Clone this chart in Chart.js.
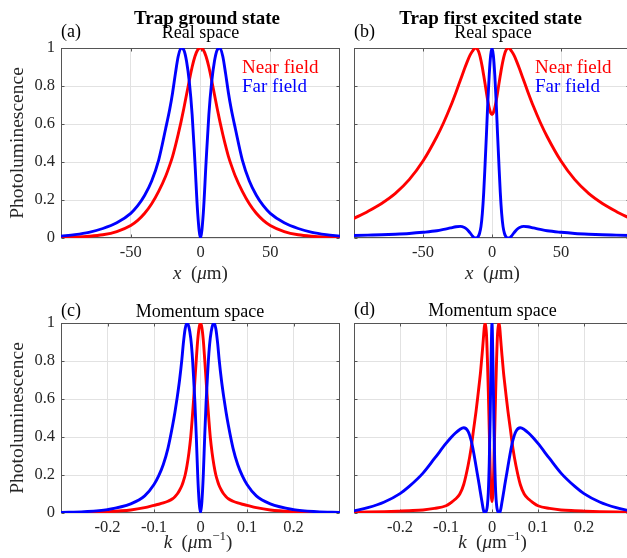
<!DOCTYPE html>
<html>
<head>
<meta charset="utf-8">
<script src="https://cdn.jsdelivr.net/npm/chart.js@4/dist/chart.umd.min.js"></script>
<style>
html, body { margin: 0; padding: 0; overflow: hidden; background: #fff; width: 627px; height: 558px; }
canvas { position: absolute; }
</style>
</head>
<body>
<canvas id="pa" width="348" height="290" style="left:0;top:0"></canvas>
<canvas id="pb" width="348" height="290" style="left:293px;top:0"></canvas>
<canvas id="pc" width="348" height="290" style="left:0;top:275px"></canvas>
<canvas id="pd" width="348" height="290" style="left:293px;top:275px"></canvas>
<script>
// ---- data ----
const yTicks = [0, 0.2, 0.4, 0.6, 0.8, 1];
const realTicks = [-50, 0, 50];
const momentumTicks = [-0.2, -0.1, 0, 0.1, 0.2];

// trap ground state, real space (x in um)
const groundRealX = [-100, -90, -80, -70, -60, -50, -45, -40, -35, -30, -25, -22, -20, -18, -16, -14, -12, -10, -8, -6, -4, -2,
  0, 2, 4, 6, 8, 10, 12, 14, 16, 18, 20, 22, 25, 30, 35, 40, 45, 50, 60, 70, 80, 90, 100];
const groundRealNear = [0.003, 0.005, 0.009, 0.017, 0.034, 0.066, 0.093, 0.13, 0.18, 0.245, 0.325, 0.385, 0.43, 0.485, 0.545, 0.61, 0.68, 0.755, 0.83, 0.90, 0.955, 0.99,
  1.0, 0.99, 0.955, 0.90, 0.83, 0.755, 0.68, 0.61, 0.545, 0.485, 0.43, 0.385, 0.325, 0.245, 0.18, 0.13, 0.093, 0.066, 0.034, 0.017, 0.009, 0.005, 0.003];
const groundRealFar = [0.01, 0.018, 0.03, 0.05, 0.08, 0.13, 0.17, 0.225, 0.30, 0.41, 0.575, 0.68, 0.765, 0.865, 0.955, 1.0, 0.99, 0.93, 0.82, 0.65, 0.40, 0.13,
  0, 0.13, 0.40, 0.65, 0.82, 0.93, 0.99, 1.0, 0.955, 0.865, 0.765, 0.68, 0.575, 0.41, 0.30, 0.225, 0.17, 0.13, 0.08, 0.05, 0.03, 0.018, 0.01];

// trap first excited state, real space
const excitedRealX = [-100, -90, -80, -70, -60, -50, -40, -35, -30, -26, -23, -20, -18, -16, -14, -13, -12, -11, -10, -9, -8, -7, -6, -5, -4, -3, -2, -1,
  0, 1, 2, 3, 4, 5, 6, 7, 8, 9, 10, 11, 12, 13, 14, 16, 18, 20, 23, 26, 30, 35, 40, 50, 60, 70, 80, 90, 100];
const excitedRealNear = [0.103, 0.14, 0.182, 0.235, 0.307, 0.405, 0.533, 0.608, 0.693, 0.769, 0.829, 0.889, 0.927, 0.961, 0.985, 0.995, 1.0, 0.997, 0.986, 0.965, 0.935, 0.898, 0.855, 0.81, 0.763, 0.72, 0.685, 0.66,
  0.65, 0.66, 0.685, 0.72, 0.763, 0.81, 0.855, 0.898, 0.935, 0.965, 0.986, 0.997, 1.0, 0.995, 0.985, 0.961, 0.927, 0.889, 0.829, 0.769, 0.693, 0.608, 0.533, 0.405, 0.307, 0.235, 0.182, 0.14, 0.103];
const excitedRealFar = [0.013, 0.015, 0.017, 0.02, 0.024, 0.03, 0.038, 0.045, 0.053, 0.059, 0.061, 0.055, 0.045, 0.028, 0.009, 0.002, 0.0, 0.001, 0.008, 0.025, 0.06, 0.13, 0.24, 0.39, 0.55, 0.72, 0.86, 0.96,
  1.0, 0.96, 0.86, 0.72, 0.55, 0.39, 0.24, 0.13, 0.06, 0.025, 0.008, 0.001, 0.0, 0.002, 0.009, 0.028, 0.045, 0.055, 0.061, 0.059, 0.053, 0.045, 0.038, 0.03, 0.024, 0.02, 0.017, 0.015, 0.013];

// trap ground state, momentum space (k in 1/um)
const groundMomK = [-0.3, -0.25, -0.2, -0.15, -0.12, -0.1, -0.09, -0.08, -0.07, -0.06, -0.055, -0.05, -0.045, -0.04, -0.037, -0.033, -0.029, -0.025, -0.021, -0.018, -0.015, -0.012, -0.009, -0.006, -0.003,
  0, 0.003, 0.006, 0.009, 0.012, 0.015, 0.018, 0.021, 0.025, 0.029, 0.033, 0.037, 0.04, 0.045, 0.05, 0.055, 0.06, 0.07, 0.08, 0.09, 0.1, 0.12, 0.15, 0.2, 0.25, 0.3];
const groundMomNear = [0.001, 0.003, 0.007, 0.016, 0.028, 0.04, 0.046, 0.053, 0.062, 0.075, 0.086, 0.10, 0.12, 0.145, 0.166, 0.20, 0.25, 0.315, 0.40, 0.49, 0.59, 0.70, 0.81, 0.91, 0.975,
  1.0, 0.975, 0.91, 0.81, 0.70, 0.59, 0.49, 0.40, 0.315, 0.25, 0.20, 0.166, 0.145, 0.12, 0.10, 0.086, 0.075, 0.062, 0.053, 0.046, 0.04, 0.028, 0.016, 0.007, 0.003, 0.001];
const groundMomFar = [0.003, 0.007, 0.018, 0.048, 0.09, 0.15, 0.195, 0.255, 0.34, 0.46, 0.53, 0.61, 0.70, 0.81, 0.89, 0.97, 1.0, 0.98, 0.92, 0.84, 0.72, 0.58, 0.40, 0.2, 0.06,
  0, 0.06, 0.2, 0.40, 0.58, 0.72, 0.84, 0.92, 0.98, 1.0, 0.97, 0.89, 0.81, 0.70, 0.61, 0.53, 0.46, 0.34, 0.255, 0.195, 0.15, 0.09, 0.048, 0.018, 0.007, 0.003];

// trap first excited state, momentum space
const excitedMomK = [-0.3, -0.27, -0.234, -0.2, -0.18, -0.15, -0.125, -0.1, -0.09, -0.08, -0.07, -0.0615, -0.052, -0.0455, -0.04, -0.0347, -0.031, -0.0275, -0.025, -0.0217, -0.019, -0.0166, -0.0145, -0.012, -0.01, -0.008, -0.006, -0.004, -0.002,
  0, 0.002, 0.004, 0.006, 0.008, 0.01, 0.012, 0.0145, 0.0166, 0.019, 0.0217, 0.025, 0.0275, 0.031, 0.0347, 0.04, 0.0455, 0.052, 0.0615, 0.07, 0.08, 0.09, 0.1, 0.125, 0.15, 0.18, 0.2, 0.234, 0.27, 0.3];
const excitedMomNear = [0.004, 0.005, 0.007, 0.01, 0.012, 0.016, 0.024, 0.038, 0.053, 0.072, 0.10, 0.15, 0.25, 0.34, 0.44, 0.535, 0.61, 0.685, 0.74, 0.83, 0.91, 0.98, 1.0, 0.94, 0.81, 0.64, 0.44, 0.24, 0.1,
  0.06, 0.1, 0.24, 0.44, 0.64, 0.81, 0.94, 1.0, 0.98, 0.91, 0.83, 0.74, 0.685, 0.61, 0.535, 0.44, 0.34, 0.25, 0.15, 0.10, 0.072, 0.053, 0.038, 0.024, 0.016, 0.012, 0.01, 0.007, 0.005, 0.004];
const excitedMomFar = [0.011, 0.028, 0.058, 0.102, 0.14, 0.21, 0.287, 0.366, 0.395, 0.42, 0.44, 0.449, 0.43, 0.383, 0.32, 0.246, 0.193, 0.143, 0.105, 0.058, 0.02, 0.0, 0.002, 0.012, 0.04, 0.11, 0.26, 0.5, 0.8,
  1.0, 0.8, 0.5, 0.26, 0.11, 0.04, 0.012, 0.002, 0.0, 0.02, 0.058, 0.105, 0.143, 0.193, 0.246, 0.32, 0.383, 0.43, 0.449, 0.44, 0.42, 0.395, 0.366, 0.287, 0.21, 0.14, 0.102, 0.058, 0.028, 0.011];

// ---- styling ----
const FONT = "'Liberation Serif', 'Times New Roman', serif";
const RED = '#ff0000';
const BLUE = '#0000ff';
const GRID = '#e2e2e2';
const AXIS = '#555555';
const TEXT = '#262626';

Chart.defaults.font.family = FONT;
Chart.defaults.color = TEXT;

const realLabel = [
  { text: 'x', font: 'italic 19px ' + FONT },
  { text: '  (', font: '19px ' + FONT },
  { text: 'μ', font: 'italic 19px ' + FONT },
  { text: 'm)', font: '19px ' + FONT }
];
const momentumLabel = [
  { text: 'k', font: 'italic 19px ' + FONT },
  { text: '  (', font: '19px ' + FONT },
  { text: 'μ', font: 'italic 19px ' + FONT },
  { text: 'm', font: '19px ' + FONT },
  { text: '−1', font: '13px ' + FONT, dy: -8 },
  { text: ')', font: '19px ' + FONT }
];

const panels = [
  { id: 'pa', xs: groundRealX, near: groundRealNear, far: groundRealFar, range: 100, xTicks: realTicks,
    padRight: 8, yLabels: true, legend: true,
    header: { text: 'Trap ground state', x: 207, y: 24 },
    sub: { text: 'Real space', x: 200.5, y: 37.5 },
    letter: { text: '(a)', x: 61, y: 37 },
    xLabel: { parts: realLabel, x: 200.5, y: 279 } },
  { id: 'pb', xs: excitedRealX, near: excitedRealNear, far: excitedRealFar, range: 100, xTicks: realTicks,
    padRight: 11, yLabels: false, legend: true,
    header: { text: 'Trap first excited state', x: 197.5, y: 23.5 },
    sub: { text: 'Real space', x: 200, y: 37.5 },
    letter: { text: '(b)', x: 61, y: 37 },
    xLabel: { parts: realLabel, x: 199.5, y: 279 } },
  { id: 'pc', xs: groundMomK, near: groundMomNear, far: groundMomFar, range: 0.3, xTicks: momentumTicks,
    padRight: 8, yLabels: true, legend: false,
    sub: { text: 'Momentum space', x: 200, y: 42 },
    letter: { text: '(c)', x: 61, y: 41 },
    xLabel: { parts: momentumLabel, x: 198, y: 273 } },
  { id: 'pd', xs: excitedMomK, near: excitedMomNear, far: excitedMomFar, range: 0.3, xTicks: momentumTicks,
    padRight: 11, yLabels: false, legend: false,
    sub: { text: 'Momentum space', x: 199.5, y: 41 },
    letter: { text: '(d)', x: 61, y: 40 },
    xLabel: { parts: momentumLabel, x: 199.5, y: 273 } }
];

function pts(xs, ys) {
  return xs.map((x, i) => ({ x: x, y: ys[i] }));
}

// draws a label made of differently styled pieces, centred on cx
function richText(ctx, parts, cx, y) {
  let total = 0;
  parts.forEach(p => { ctx.font = p.font; total += ctx.measureText(p.text).width; });
  let x = cx - total / 2;
  parts.forEach(p => {
    ctx.font = p.font;
    ctx.fillText(p.text, x, y + (p.dy || 0));
    x += ctx.measureText(p.text).width;
  });
}

// box with inward ticks, plus the panel texts
function decor(p) {
  return {
    id: 'decor',
    beforeDatasetsDraw(chart) {
      const { ctx, chartArea: a, scales } = chart;
      ctx.save();
      ctx.strokeStyle = AXIS;
      ctx.lineWidth = 1;
      const l = Math.round(a.left) + 0.5, r = Math.round(a.right) - 0.5;
      const t = Math.round(a.top) + 0.5, b = Math.round(a.bottom) - 0.5;
      ctx.strokeRect(l, t, r - l, b - t);
      ctx.beginPath();
      p.xTicks.forEach(v => {
        const px = Math.round(scales.x.getPixelForValue(v)) + 0.5;
        ctx.moveTo(px, b); ctx.lineTo(px, b - 3);
        ctx.moveTo(px, t); ctx.lineTo(px, t + 3);
      });
      yTicks.forEach(v => {
        const py = Math.round(scales.y.getPixelForValue(v)) + 0.5;
        ctx.moveTo(l, py); ctx.lineTo(l + 3, py);
        ctx.moveTo(r, py); ctx.lineTo(r - 3, py);
      });
      ctx.stroke();
      ctx.restore();
    },
    afterDraw(chart) {
      const ctx = chart.ctx;
      ctx.save();
      ctx.textBaseline = 'alphabetic';
      ctx.fillStyle = '#000';
      if (p.header) {
        ctx.textAlign = 'center';
        ctx.font = 'bold 19px ' + FONT;
        ctx.fillText(p.header.text, p.header.x, p.header.y);
      }
      ctx.textAlign = 'center';
      ctx.font = '18px ' + FONT;
      ctx.fillText(p.sub.text, p.sub.x, p.sub.y);
      ctx.textAlign = 'left';
      ctx.fillText(p.letter.text, p.letter.x, p.letter.y);
      if (p.legend) {
        ctx.font = '19px ' + FONT;
        ctx.fillStyle = RED;
        ctx.fillText('Near field', 242, 73);
        ctx.fillStyle = BLUE;
        ctx.fillText('Far field', 242, 92);
      }
      ctx.fillStyle = TEXT;
      richText(ctx, p.xLabel.parts, p.xLabel.x, p.xLabel.y);
      ctx.restore();
    }
  };
}

panels.forEach(p => {
  new Chart(document.getElementById(p.id), {
    type: 'line',
    data: {
      datasets: [
        { label: 'Far field', data: pts(p.xs, p.far), borderColor: BLUE, borderWidth: 2.9, order: 0 },
        { label: 'Near field', data: pts(p.xs, p.near), borderColor: RED, borderWidth: 2.9, order: 1 }
      ]
    },
    options: {
      responsive: false,
      animation: false,
      devicePixelRatio: 1,
      layout: { padding: { top: 48, right: p.padRight, left: 0, bottom: 0 } },
      elements: {
        point: { radius: 0 },
        line: { cubicInterpolationMode: 'monotone', fill: false, borderJoinStyle: 'round', borderCapStyle: 'round' }
      },
      plugins: { legend: { display: false }, tooltip: { enabled: false } },
      scales: {
        x: {
          type: 'linear',
          min: -p.range,
          max: p.range,
          afterBuildTicks: axis => { axis.ticks = p.xTicks.map(v => ({ value: v })); },
          afterFit: axis => { axis.height = 52; },
          grid: { color: GRID, drawTicks: false },
          border: { display: false },
          ticks: { padding: 5, maxRotation: 0, font: { size: 16.5 }, color: TEXT, callback: v => String(v) }
        },
        y: {
          min: 0,
          max: 1,
          afterBuildTicks: axis => { axis.ticks = yTicks.map(v => ({ value: v })); },
          afterFit: axis => { axis.width = 61; },
          grid: { color: GRID, drawTicks: false },
          border: { display: false },
          ticks: { display: p.yLabels, padding: 6, font: { size: 16.5 }, color: TEXT, callback: v => String(v) },
          title: { display: p.yLabels, text: 'Photoluminescence', color: TEXT, font: { size: 19.5 }, padding: { top: 6, bottom: 0 } }
        }
      }
    },
    plugins: [decor(p)]
  });
});
</script>
</body>
</html>
